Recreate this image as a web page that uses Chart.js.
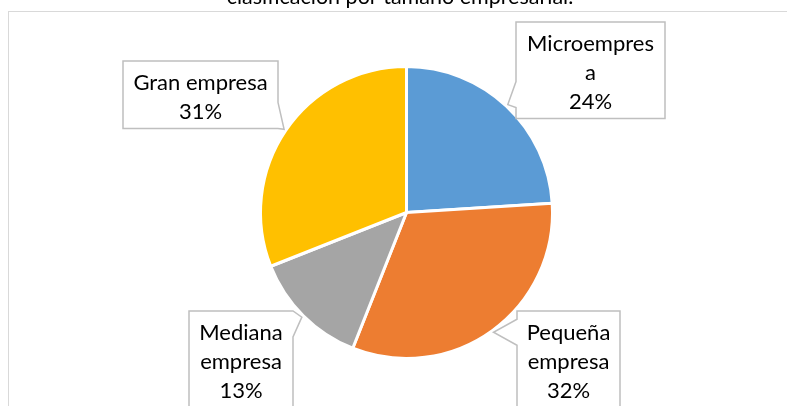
<!DOCTYPE html>
<html><head><meta charset="utf-8">
<script src="https://cdn.jsdelivr.net/npm/chart.js@4/dist/chart.umd.min.js"></script>
<style>
html,body{margin:0;padding:0;background:#fff;overflow:hidden}
#wrap{position:absolute;left:0;top:0;width:787px;height:406px}
</style>
</head><body>
<div id="wrap"><canvas id="c"></canvas></div>
<script>
// ---- data ----
const categories = ["Microempresa", "Pequeña empresa", "Mediana empresa", "Gran empresa"];
const shares = [24, 32, 13, 31];
const percentLabels = ["24%", "32%", "13%", "31%"];
const labelLines = [["Microempres", "a"], ["Pequeña", "empresa"], ["Mediana", "empresa"], ["Gran empresa"]];
const colors = ["#5B9BD5", "#ED7D31", "#A5A5A5", "#FFC000"];
const titleText = "clasificación por tamaño empresarial.";

// ---- callout layout (box top-left offset from pie centre, box width, wedge shift) ----
const calloutBoxes = [
  {dx: 109.5, dy: -190.5, w: 149, shift: -10},
  {dx: 110.5, dy: 98.5, w: 103, shift: 0},
  {dx: -217.5, dy: 98.5, w: 104, shift: 0},
  {dx: -283.5, dy: -151.5, w: 155, shift: 0}
];

const FONT = "Lato, 'Open Sans', sans-serif";

const decor = {
  id: 'decor',
  beforeDraw(chart) {
    const ctx = chart.ctx;
    ctx.save();
    ctx.strokeStyle = '#D9D9D9';
    ctx.lineWidth = 1;
    ctx.strokeRect(8.5, 11.5, 900, 600);
    ctx.fillStyle = '#000';
    ctx.font = "21.5px " + FONT;
    ctx.textAlign = 'center';
    ctx.textBaseline = 'alphabetic';
    ctx.fillText(titleText, 400, 4);
    ctx.restore();
  },
  afterDatasetsDraw(chart) {
    const ctx = chart.ctx;
    const meta = chart.getDatasetMeta(0);
    meta.data.forEach((arc, i) => {
      const p = arc.getProps(['x', 'y', 'startAngle', 'endAngle', 'outerRadius'], true);
      const mid = (p.startAngle + p.endAngle) / 2;
      const tx = p.x + Math.cos(mid) * (p.outerRadius + 2);
      const ty = p.y + Math.sin(mid) * (p.outerRadius + 2);
      const b = calloutBoxes[i];
      const lines = labelLines[i].concat([percentLabels[i]]);
      const L = p.x + b.dx, T = p.y + b.dy, R = L + b.w;
      const H = 28.5 + (lines.length - 1) * 29 + 10;
      const B = T + H;
      const h = 13;
      ctx.save();
      ctx.beginPath();
      if (tx < L || tx > R) {
        let c = Math.min(Math.max(ty + b.shift, T + h), B - h);
        const b1 = c - h, b2 = c + h;
        if (tx < L) {
          ctx.moveTo(L, T); ctx.lineTo(R, T); ctx.lineTo(R, B); ctx.lineTo(L, B);
          ctx.lineTo(L, b2); ctx.lineTo(tx, ty); ctx.lineTo(L, b1); ctx.closePath();
        } else {
          ctx.moveTo(L, T); ctx.lineTo(R, T); ctx.lineTo(R, b1); ctx.lineTo(tx, ty);
          ctx.lineTo(R, b2); ctx.lineTo(R, B); ctx.lineTo(L, B); ctx.closePath();
        }
      } else {
        ctx.rect(L, T, R - L, B - T);
      }
      ctx.fillStyle = '#FFFFFF';
      ctx.fill();
      ctx.strokeStyle = '#BFBFBF';
      ctx.lineWidth = 1.5;
      ctx.lineJoin = 'miter';
      ctx.stroke();
      ctx.fillStyle = '#000000';
      ctx.font = "22px " + FONT;
      ctx.textAlign = 'center';
      ctx.textBaseline = 'alphabetic';
      const cx = (L + R) / 2;
      lines.forEach((s, k) => ctx.fillText(s, cx, T + 28.5 + k * 29));
      ctx.restore();
    });
  }
};

new Chart(document.getElementById('c'), {
  type: 'pie',
  data: {
    labels: categories,
    datasets: [{
      data: shares,
      backgroundColor: colors,
      borderColor: '#FFFFFF',
      borderWidth: 3,
      hoverOffset: 0
    }]
  },
  options: {
    responsive: true,
    maintainAspectRatio: false,
    animation: false,
    layout: {padding: {top: 65, bottom: 46, left: 26, right: 0}},
    plugins: {
      legend: {display: false},
      tooltip: {enabled: false},
      title: {display: false}
    }
  },
  plugins: [decor]
});
</script>
</body></html>
